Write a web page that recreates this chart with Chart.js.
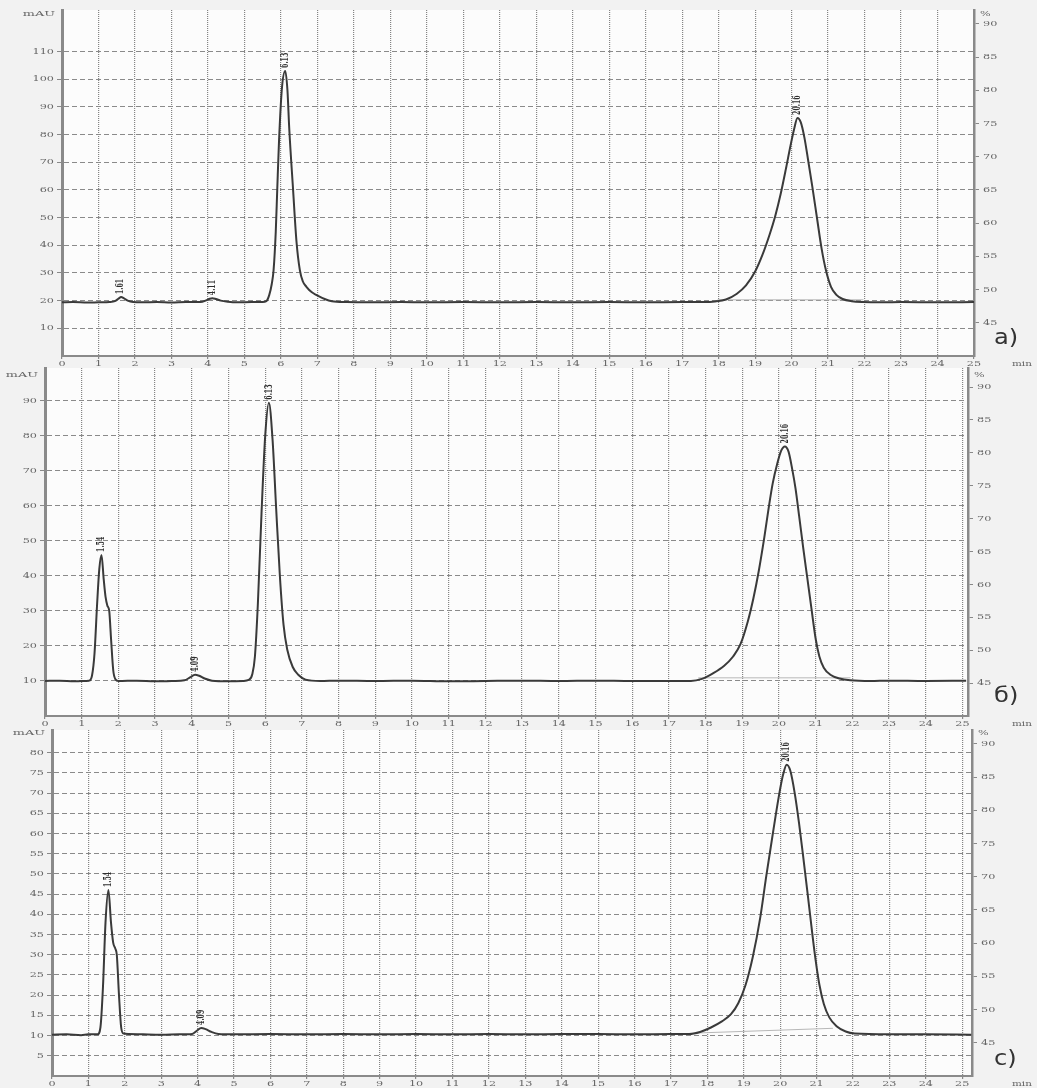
<!DOCTYPE html>
<html><head><meta charset="utf-8">
<script src="https://cdn.jsdelivr.net/npm/chart.js@4.4.1/dist/chart.umd.min.js"></script>
<style>
html,body{margin:0;padding:0;background:#f2f2f2;}
body{width:1037px;height:1088px;overflow:hidden;position:relative;}
canvas{position:absolute;left:0;}
</style></head><body>
<canvas id="ca" width="1037" height="375" style="top:0px"></canvas>
<canvas id="cb" width="1037" height="375" style="top:360px"></canvas>
<canvas id="cc" width="1037" height="366" style="top:722px"></canvas>
<script>
// ---- shared axis tick values ----
const X_TICKS = [0,1,2,3,4,5,6,7,8,9,10,11,12,13,14,15,16,17,18,19,20,21,22,23,24,25];
const PCT_TICKS = [45,50,55,60,65,70,75,80,85,90];

// ---- panel a) ----
const TIME_A = [0,0.3,0.7,1.0,1.3,1.45,1.55,1.62,1.7,1.8,1.95,2.2,2.6,3.0,3.4,3.8,3.95,4.05,4.12,4.22,4.35,4.55,4.8,5.2,5.5,5.6,5.68,5.75,5.8,5.86,5.9,5.95,6.03,6.12,6.18,6.23,6.33,6.43,6.52,6.6,6.7,6.85,6.98,7.2,7.4,7.8,8.5,9.3,10,11,12,13,14,15,16,17,17.6,17.9,18.2,18.5,18.75,19.0,19.2,19.4,19.55,19.7,19.85,19.97,20.07,20.16,20.25,20.35,20.45,20.57,20.7,20.82,20.95,21.08,21.22,21.4,21.65,21.95,22.5,23,24,25];
const SIGNAL_A = [19.4,19.5,19.3,19.4,19.5,19.8,20.7,21.3,20.8,20.0,19.5,19.4,19.5,19.3,19.5,19.5,20.1,20.7,20.9,20.6,20.0,19.6,19.4,19.5,19.5,19.8,22,26,31,45,60,78,97,103,96,82,61,41,31,27,25,23,22,20.6,19.8,19.5,19.4,19.5,19.4,19.5,19.4,19.5,19.4,19.5,19.4,19.5,19.5,19.7,20.4,22.5,25.5,30.5,36.5,44,50.5,58.5,68,76,82,86,84.5,79,71,61,49.5,39,30.5,25,22.2,20.6,19.8,19.5,19.4,19.5,19.4,19.5];
const BASE_A_T = [17.97, 21.97];
const BASE_A_V = [20.3, 20.3];
const MAU_TICKS_A = [10,20,30,40,50,60,70,80,90,100,110];
const PEAK_A_TXT = ['1.61','4.11','6.13','20.16'];
const PEAK_A_T = [1.61,4.11,6.12,20.16];
const PEAK_A_H = [21.3,20.9,103,86];

// ---- panel б) ----
const TIME_B = [0,0.4,0.8,1.0,1.2,1.28,1.35,1.42,1.48,1.54,1.6,1.65,1.7,1.75,1.8,1.86,1.92,2.0,2.5,3.0,3.5,3.8,3.95,4.09,4.2,4.35,4.55,5.0,5.4,5.55,5.65,5.72,5.8,5.9,6.0,6.1,6.2,6.3,6.4,6.5,6.6,6.75,6.9,7.1,7.5,8,9,10,11,12,13,14,15,16,17,17.6,17.9,18.2,18.5,18.75,18.95,19.15,19.3,19.45,19.6,19.72,19.83,19.95,20.06,20.16,20.26,20.36,20.45,20.55,20.66,20.77,20.88,21.0,21.1,21.22,21.4,21.65,21.95,22.5,23,24,25.1];
const SIGNAL_B = [10,10.1,9.9,10,10.1,11.5,18,32,42,46,39,34,31.5,30,22,13,10.5,10,10.1,9.9,10,10.2,11,11.8,11.5,10.7,10.1,9.9,10,10.3,12,17,32,58,80,89.5,79,59,40,26,19,14,11.8,10.4,10,10.1,10,10.1,9.9,10,10.1,10,10.1,10,10,10,10.6,12.2,14.3,17,20.5,27,33.5,41.5,51,59.5,66.5,72,75.8,77,75.5,70.5,65,57,48,39.5,31,22,17,13.8,11.8,10.7,10.2,10,10.1,10,10.1];
const BASE_B_T = [17.8, 21.95];
const BASE_B_V = [10.9, 10.9];
const MAU_TICKS_B = [10,20,30,40,50,60,70,80,90];
const PEAK_B_TXT = ['1.54','4.09','6.13','20.16'];
const PEAK_B_T = [1.54,4.09,6.1,20.16];
const PEAK_B_H = [46,11.8,89.5,77];

// ---- panel c) ----
const TIME_C = [0,0.4,0.8,1.0,1.25,1.33,1.4,1.47,1.55,1.62,1.68,1.74,1.78,1.84,1.9,1.96,2.1,2.5,3.0,3.5,3.85,3.98,4.1,4.22,4.38,4.57,5,6,7,8,9,10,11,12,13,14,15,16,17,17.5,17.8,18.1,18.4,18.65,18.85,19.05,19.25,19.45,19.62,19.8,19.97,20.08,20.18,20.28,20.4,20.52,20.63,20.75,20.86,20.97,21.08,21.2,21.35,21.55,21.8,22.05,23,24,25.25];
const SIGNAL_C = [10.2,10.3,10.1,10.3,10.3,12,22,38,46,38,33,31.5,30,20,12,10.5,10.4,10.3,10.2,10.3,10.4,11.2,11.9,11.6,10.9,10.4,10.3,10.4,10.3,10.4,10.3,10.4,10.3,10.4,10.3,10.4,10.4,10.3,10.4,10.4,10.9,12,13.5,15.3,18,22.5,29.5,39,49.5,60,69.5,74.5,77,75.5,70,62.5,54.5,45.5,37,29,22.5,17.8,14.5,12.3,11,10.5,10.3,10.3,10.2];
const BASE_C_T = [17.6, 21.45];
const BASE_C_V = [10.6, 11.8];
const MAU_TICKS_C = [5,10,15,20,25,30,35,40,45,50,55,60,65,70,75,80];
const PEAK_C_TXT = ['1.54','4.09','20.16'];
const PEAK_C_T = [1.55,4.1,20.18];
const PEAK_C_H = [46,11.9,77];

const PANEL_LABELS = ['a)','б)','c)'];
const UNIT_Y = 'mAU', UNIT_Y2 = '%', UNIT_X = 'min';

const SERIF = '"DejaVu Serif","Liberation Serif",serif';
const SANS = '"DejaVu Sans","Liberation Sans",sans-serif';
const STRETCH = 1.4;

function pts(t, v){ return t.map((x,i)=>({x:x, y:v[i]})); }

function sText(ctx, s, x, y, align, sx, sy){
  ctx.save();
  ctx.translate(x, y);
  ctx.scale(sx, sy || 1);
  ctx.textAlign = align;
  ctx.textBaseline = 'middle';
  ctx.fillText(s, 0, 0);
  ctx.restore();
}

function makePanel(id, o){
  const deco = {
    id:'deco'+id,
    beforeDraw(chart){
      const {ctx, chartArea:a} = chart;
      ctx.save();
      ctx.fillStyle = '#fcfcfc';
      ctx.fillRect(a.left, a.top, a.right-a.left, a.bottom-a.top);
      ctx.restore();
    },
    afterDraw(chart){
      const {ctx, chartArea:a, scales} = chart;
      ctx.save();
      // tick labels
      ctx.fillStyle = '#666';
      ctx.font = '8px ' + SERIF;
      scales.x.ticks.forEach(t=>{
        sText(ctx, String(t.value), scales.x.getPixelForValue(t.value), a.bottom + 7.5, 'center', STRETCH);
      });
      scales.y.ticks.forEach(t=>{
        sText(ctx, String(t.value), a.left - 8, scales.y.getPixelForValue(t.value), 'right', STRETCH);
      });
      scales.y2.ticks.forEach(t=>{
        sText(ctx, String(t.value), a.right + 9, scales.y2.getPixelForValue(t.value), 'left', STRETCH);
      });
      sText(ctx, UNIT_Y, a.left - 7, a.top + o.unitDy, 'right', 1.6);
      sText(ctx, UNIT_Y2, a.right + 6, a.top + o.unitDy, 'left', 1.4);
      sText(ctx, UNIT_X, 1012, a.bottom + 7.5, 'left', 1.3);
      // peak retention-time labels (vertical)
      ctx.fillStyle = '#2e2e2e';
      ctx.font = 'bold 8px ' + SERIF;
      o.peakTxt.forEach((s,i)=>{
        const px = scales.x.getPixelForValue(o.peakT[i]);
        const py = scales.y.getPixelForValue(o.peakH[i]) - 3;
        ctx.save();
        ctx.translate(px, py);
        ctx.rotate(-Math.PI/2);
        ctx.scale(0.78, 1.3);
        ctx.textAlign = 'left';
        ctx.textBaseline = 'middle';
        ctx.fillText(s, 0, 0);
        ctx.restore();
      });
      // panel letter
      ctx.fillStyle = '#333';
      ctx.font = '21px ' + SANS;
      sText(ctx, o.panel, 994, a.bottom - o.panelDy, 'left', 1.15);
      ctx.restore();
    }
  };
  return new Chart(document.getElementById(id), {
    type:'line',
    data:{datasets:[
      {data: pts(o.baseT, o.baseV), borderColor:'#b8b8b8', borderWidth:1, pointRadius:0, tension:0, order:2},
      {data: pts(o.t, o.v), borderColor:'#3a3a3a', borderWidth:2, pointRadius:0, cubicInterpolationMode:'monotone', order:1}
    ]},
    options:{
      responsive:false, animation:false, events:[],
      layout:{padding:{top:o.padTop, left:0, right:0, bottom:0}},
      plugins:{legend:{display:false}, tooltip:{enabled:false}},
      scales:{
        x:{type:'linear', min:0, max:o.xMax,
          afterBuildTicks:s=>{ s.ticks = X_TICKS.map(v=>({value:v})); },
          afterFit:s=>{ s.height = o.xH; },
          grid:{color:'#858585', lineWidth:1.2, drawTicks:true, tickLength:3, tickColor:'#888', tickBorderDash:[]},
          border:{display:true, color:'#8a8a8a', width:2, dash:[1,1]},
          ticks:{display:false}
        },
        y:{type:'linear', position:'left', min:0, max:o.yMax,
          afterBuildTicks:s=>{ s.ticks = o.yTicks.map(v=>({value:v})); },
          afterFit:s=>{ s.width = o.leftW; },
          grid:{color:'#8a8a8a', lineWidth:1, tickLength:5, tickColor:'#888', tickBorderDash:[]},
          border:{display:true, color:'#8a8a8a', width:3, dash:[5,3]},
          ticks:{display:false}
        },
        y2:{type:'linear', position:'right', min:40, max:o.y2Max,
          afterBuildTicks:s=>{ s.ticks = PCT_TICKS.map(v=>({value:v})); },
          afterFit:s=>{ s.width = o.rightW; },
          grid:{drawOnChartArea:false, tickLength:5, tickColor:'#888', tickBorderDash:[]},
          border:{display:true, color:'#8a8a8a', width:2.5},
          ticks:{display:false}
        }
      }
    },
    plugins:[deco]
  });
}

makePanel('ca', {t:TIME_A, v:SIGNAL_A, baseT:BASE_A_T, baseV:BASE_A_V, yTicks:MAU_TICKS_A,
  peakTxt:PEAK_A_TXT, peakT:PEAK_A_T, peakH:PEAK_A_H, panel:PANEL_LABELS[0],
  xMax:25, yMax:125, y2Max:92.1, padTop:10, xH:19, leftW:62, rightW:63, unitDy:4, panelDy:17});
makePanel('cb', {t:TIME_B, v:SIGNAL_B, baseT:BASE_B_T, baseV:BASE_B_V, yTicks:MAU_TICKS_B,
  peakTxt:PEAK_B_TXT, peakT:PEAK_B_T, peakH:PEAK_B_H, panel:PANEL_LABELS[1],
  xMax:25.15, yMax:99.4, y2Max:92.9, padTop:8, xH:19, leftW:45, rightW:69, unitDy:7, panelDy:19});
makePanel('cc', {t:TIME_C, v:SIGNAL_C, baseT:BASE_C_T, baseV:BASE_C_V, yTicks:MAU_TICKS_C,
  peakTxt:PEAK_C_TXT, peakT:PEAK_C_T, peakH:PEAK_C_H, panel:PANEL_LABELS[2],
  xMax:25.27, yMax:85.6, y2Max:92.1, padTop:8, xH:12, leftW:52, rightW:65, unitDy:3, panelDy:16});
</script>
</body></html>
